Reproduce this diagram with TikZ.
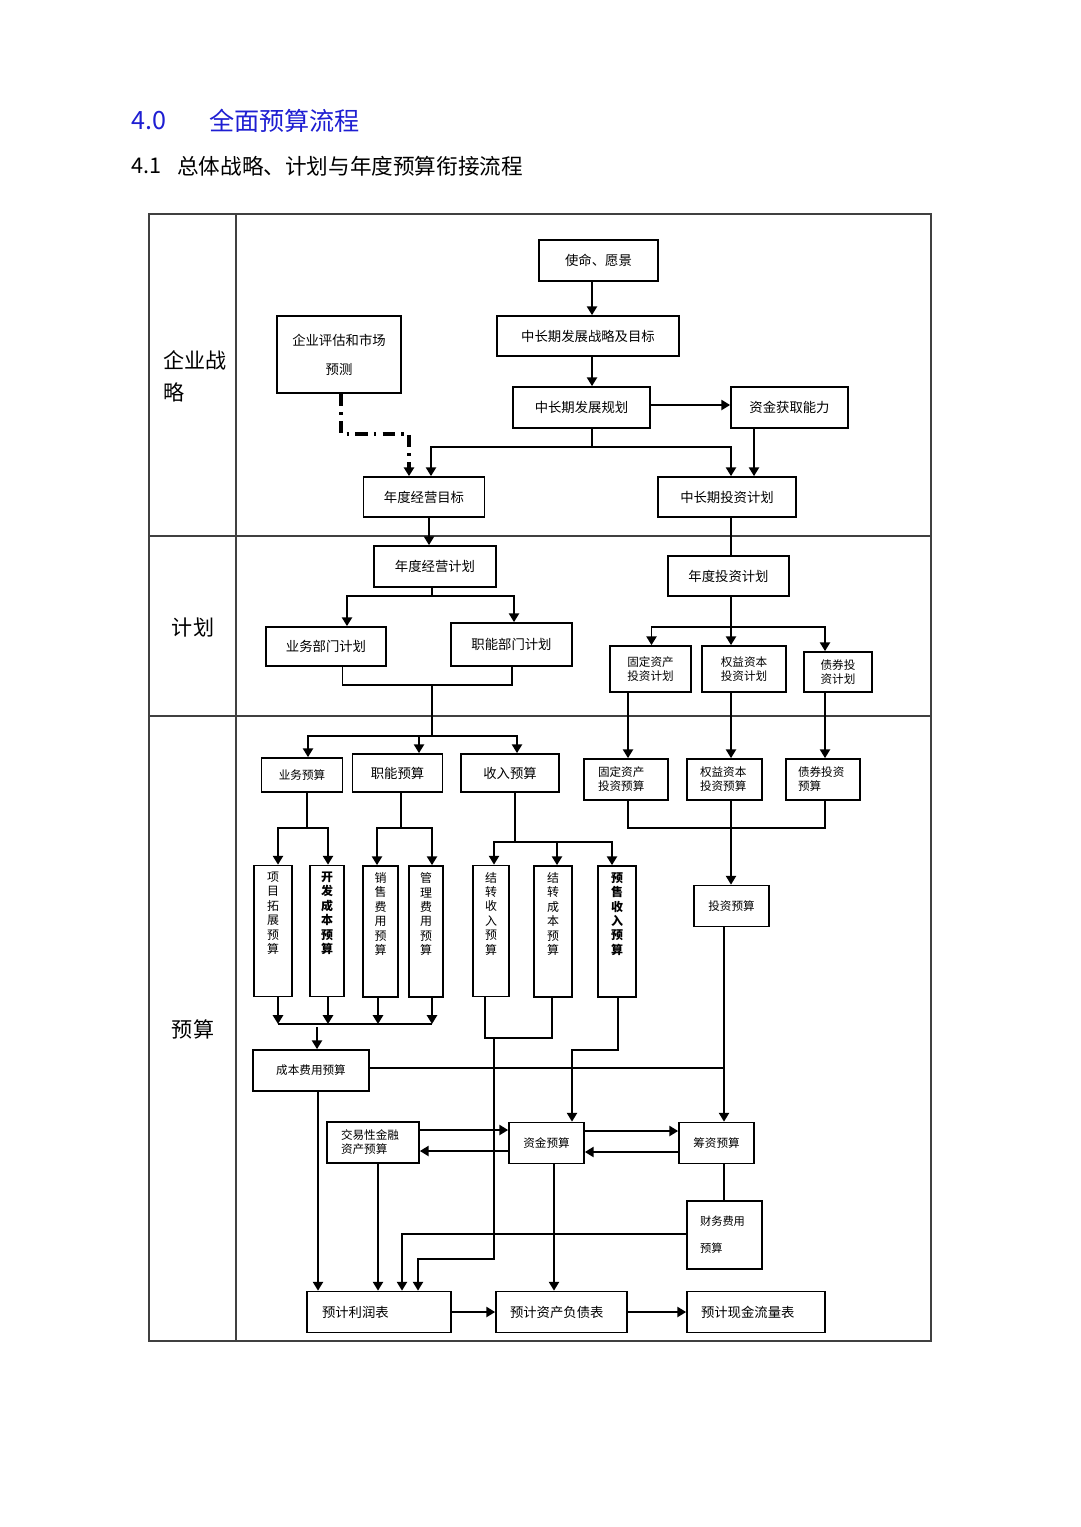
\documentclass[tikz,border=0pt]{standalone}
\usepackage{fontspec}
\setmainfont{Noto Sans CJK SC}
\usetikzlibrary{arrows.meta,positioning}
\definecolor{titleblue}{RGB}{30,30,210}
\begin{document}
\begin{tikzpicture}[x=0.02cm,y=-0.02cm,
    bx/.style={draw,line width=1pt,inner sep=1pt,font=\fontsize{7.6}{9}\selectfont},
    sm/.style={font=\fontsize{6.6}{8}\selectfont},
    wh/.style 2 args={minimum width=#1*0.02cm,minimum height=#2*0.02cm},
    vt/.style={font=\fontsize{6.8}{8.2}\selectfont,align=center,inner sep=0pt},
    ln/.style={line width=1pt},
    arr/.style={line width=1pt,-{Triangle[width=5.8pt,length=5pt]}},
    dd/.style={line width=1.8pt,dash pattern=on 7pt off 3.5pt on 1.5pt off 3.5pt,-{Triangle[width=5.8pt,length=5pt]}},
    lanes/.style={line width=0.7pt,black!75},
    lane/.style={font=\fontsize{12}{18.1}\selectfont}]
\useasboundingbox (0,0) rectangle (1080,1527);
%    titles
    \node[anchor=west,text=titleblue,font=\fontsize{14.3}{16}\selectfont] (t0num) at (125,121) {4.0};
    \node[anchor=west,text=titleblue,font=\fontsize{14.3}{16}\selectfont] (t0)    at (203,121) {全面预算流程};
    \node[anchor=west,font=\fontsize{12.3}{14}\selectfont] (t1num) at (125,166) {4.1};
    \node[anchor=west,font=\fontsize{12.3}{14}\selectfont] (t1)    at (171,166) {总体战略、计划与年度预算衔接流程};

    \draw[lanes] (149,214) rectangle (931,1341);
    \draw[lanes] (236,214) -- (236,1341);
    \draw[lanes] (149,536) -- (931,536);
    \draw[lanes] (149,716) -- (931,716);
    \node[lane,align=left,anchor=west] (lanezl) at (157,376) {企业战\\略};
    \node[lane] (lanejh) at (193,627)  {计划};
    \node[lane] (laneys) at (193,1029) {预算};

%    strategy
    \node[bx,wh={119}{41}] (mission) at (598.5,260.5) {使命、愿景};
    \node[bx,wh={182}{40}] (zcqzl)   at (588,336)     {中长期发展战略及目标};
    \node[bx,wh={124}{77},align=center,font=\fontsize{7.6}{16.4}\selectfont] (qypg) at (339,354.5) {企业评估和市场\\预测};
    \node[bx,wh={137}{41}] (zcqgh)   at (581.5,407.5) {中长期发展规划};
    \node[bx,wh={117}{41}] (zjhq)    at (789.5,407.5) {资金获取能力};
    \node[bx,wh={121}{40}] (ndjymb)  at (424,497)     {年度经营目标};
    \node[bx,wh={138}{40}] (zcqtz)   at (727,497)     {中长期投资计划};

%    plans
    \node[bx,wh={122}{41}] (ndjyjh)  at (435,566.5)   {年度经营计划};
    \node[bx,wh={121}{40}] (ndtzjh)  at (728.5,576)   {年度投资计划};
    \node[bx,wh={120}{39}] (ywbmjh)  at (326,646.5)   {业务部门计划};
    \node[bx,wh={121}{43}] (znbmjh)  at (511.5,644.5) {职能部门计划};
    \node[bx,sm,wh={81}{46},align=center] (gdzcjh) at (650.5,669) {固定资产\\投资计划};
    \node[bx,sm,wh={84}{46},align=center] (qyzbjh) at (744,669)   {权益资本\\投资计划};
    \node[bx,sm,wh={68}{40},align=center] (zqtzjh) at (838,672)   {债券投\\资计划};

%    budgets
    \node[bx,sm,wh={81}{34}] (ywys) at (302,775)   {业务预算};
    \node[bx,wh={90}{38}]    (znys) at (397.5,773) {职能预算};
    \node[bx,wh={98}{38}]    (srys) at (510,773)   {收入预算};
    \node[bx,sm,wh={84}{41},align=left,text width=1.12cm] (gdzcys) at (626,779.5)   {固定资产\\投资预算};
    \node[bx,sm,wh={75}{41},align=left,text width=0.98cm] (qyzbys) at (724.5,779.5) {权益资本\\投资预算};
    \node[bx,sm,wh={74}{41},align=left,text width=1.0cm]  (zqtzys) at (823,779.5)   {债券投资\\预算};

    \node[bx,wh={38}{131}] (xmtz) at (273,931)   {};
    \node[bx,wh={34}{131}] (kfcb) at (327,931)   {};
    \node[bx,wh={35}{131}] (xsfy) at (380.5,931.5) {};
    \node[bx,wh={34}{131}] (glfy) at (426,931.5) {};
    \node[bx,wh={36}{131}] (jzsr) at (491,931)   {};
    \node[bx,wh={38}{131}] (jzcb) at (553,931.5) {};
    \node[bx,wh={38}{131}] (yssr) at (617,931.5) {};
    \node[vt,below=4pt of xmtz.north] (xmtzt) {项\\目\\拓\\展\\预\\算};
    \node[vt,below=4pt of kfcb.north,font=\fontsize{6.8}{8.2}\selectfont\bfseries] (kfcbt) {开\\发\\成\\本\\预\\算};
    \node[vt,below=4pt of xsfy.north] (xsfyt) {销\\售\\费\\用\\预\\算};
    \node[vt,below=4pt of glfy.north] (glfyt) {管\\理\\费\\用\\预\\算};
    \node[vt,below=4pt of jzsr.north] (jzsrt) {结\\转\\收\\入\\预\\算};
    \node[vt,below=4pt of jzcb.north] (jzcbt) {结\\转\\成\\本\\预\\算};
    \node[vt,below=4pt of yssr.north,font=\fontsize{6.8}{8.2}\selectfont\bfseries] (yssrt) {预\\售\\收\\入\\预\\算};
    \node[bx,sm,wh={75}{41}] (tzys) at (731.5,906) {投资预算};

    \node[bx,sm,wh={116}{41}] (cbfy)  at (311,1070.5) {成本费用预算};
    \node[bx,sm,wh={92}{41},align=left,text width=1.28cm] (jyxjr) at (373,1142.5) {交易性金融\\资产预算};
    \node[bx,sm,wh={75}{41}]  (zjys)  at (546.5,1143) {资金预算};
    \node[bx,sm,wh={75}{41}]  (czys)  at (716.5,1143) {筹资预算};
    \node[bx,wh={75}{68},align=left,text width=0.98cm,font=\fontsize{6.4}{15.3}\selectfont] (cwfy) at (724.5,1235) {财务费用\\预算};
    \node[bx,wh={144}{41},align=left,text width=2.28cm] (lrb)  at (379,1312)   {预计利润表};
    \node[bx,wh={131}{41},align=left,text width=2.06cm] (zcfz) at (561.5,1312) {预计资产负债表};
    \node[bx,wh={138}{41},align=left,text width=2.2cm]  (xjll) at (756,1312)   {预计现金流量表};

    \coordinate (j1) at (592,447);
    \coordinate (d1) at (409,434);
    \coordinate (j2) at (432,596);
    \coordinate (j3) at (432,685);
    \coordinate (j4) at (432,736);
    \coordinate (j5) at (731,627);
    \coordinate (j6) at (731,828);
    \coordinate (j7) at (307,828);
    \coordinate (j8) at (401,828);
    \coordinate (j9) at (515,842);
    \coordinate (mg) at (278,1024);
    \coordinate (mg2) at (432,1024);
    \coordinate (m3) at (317,1027);
    \coordinate (j10) at (494,1038);
    \coordinate (j11) at (418,1259);
    \coordinate (j12) at (572,1050);
    \coordinate (j13) at (724,1068);

    \draw[arr] (mission.south -| 592,0) -- (zcqzl.north -| 592,0);
    \draw[arr] (zcqzl.south -| 592,0)   -- (zcqgh.north -| 592,0);
    \draw[arr] (zcqgh.east |- 0,405)    -- (zjhq.west |- 0,405);
    \draw[ln]  (zcqgh.south -| j1) -- (j1);
    \draw[arr] (j1) -| (ndjymb.north -| 431,0);
    \draw[arr] (j1) -| (zcqtz.north -| 731,0);
    \draw[arr] (zjhq.south -| 754,0) -- (zcqtz.north -| 754,0);
    \draw[dd]  (qypg.south -| 341,0) |- (d1) -- (ndjymb.north -| d1);

    \draw[arr] (ndjymb.south -| 429,0) -- (ndjyjh.north -| 429,0);
    \draw[ln]  (zcqtz.south -| 731,0)  -- (ndtzjh.north -| 731,0);
    \draw[ln]  (ndjyjh.south -| j2) -- (j2);
    \draw[arr] (j2) -| (ywbmjh.north -| 347,0);
    \draw[arr] (j2) -| (znbmjh.north -| 514,0);
    \draw[ln]  (ywbmjh.south -| 342.5,0) |- (j3);
    \draw[ln]  (znbmjh.south -| 512,0) |- (j3);
    \draw[ln]  (j3) -- (j4);
    \draw[arr] (j4) -| (ywys.north -| 308,0);
    \draw[arr] (j4) -| (znys.north -| 419,0);
    \draw[arr] (j4) -| (srys.north -| 517,0);

    \draw[ln]  (ndtzjh.south -| j5) -- (j5);
    \draw[arr] (j5) -| (gdzcjh.north -| 651.5,0);
    \draw[arr] (j5) -- (qyzbjh.north -| j5);
    \draw[arr] (j5) -| (zqtzjh.north -| 825,0);
    \draw[arr] (gdzcjh.south -| 628,0) -- (gdzcys.north -| 628,0);
    \draw[arr] (qyzbjh.south -| 731,0) -- (qyzbys.north -| 731,0);
    \draw[arr] (zqtzjh.south -| 825,0) -- (zqtzys.north -| 825,0);
    \draw[ln]  (gdzcys.south -| 628,0) |- (j6);
    \draw[ln]  (zqtzys.south -| 825,0) |- (j6);
    \draw[arr] (qyzbys.south -| j6) -- (tzys.north -| j6);

    \draw[ln]  (ywys.south -| j7) -- (j7);
    \draw[arr] (j7) -| (xmtz.north -| 278,0);
    \draw[arr] (j7) -| (kfcb.north -| 328,0);
    \draw[ln]  (znys.south -| j8) -- (j8);
    \draw[arr] (j8) -| (xsfy.north -| 377,0);
    \draw[arr] (j8) -| (glfy.north -| 432,0);
    \draw[ln]  (srys.south -| j9) -- (j9);
    \draw[arr] (j9) -| (jzsr.north -| 494,0);
    \draw[arr] (j9) -| (jzcb.north -| 557,0);
    \draw[arr] (j9) -| (yssr.north -| 612,0);

    \draw[ln]  (mg) -- (mg2);
    \draw[arr] (xmtz.south -| mg) -- (mg);
    \draw[arr] (kfcb.south -| 328,0) -- (mg -| 328,0);
    \draw[arr] (xsfy.south -| 378,0) -- (mg -| 378,0);
    \draw[arr] (glfy.south -| mg2) -- (mg2);
    \draw[arr] (m3) -- (cbfy.north -| m3);

    \draw[ln]  (jzsr.south -| 485,0) |- (j10) -| (jzcb.south -| 552,0);
    \draw[arr] (j10) |- (j11) -- (lrb.north -| j11);
    \draw[arr] (yssr.south -| 618,0) |- (j12) -- (zjys.north -| j12);
    \draw[ln]  (cbfy.east |- j13) -- (j13);
    \draw[arr] (tzys.south -| j13) -- (czys.north -| j13);

    \draw[arr] (jyxjr.east |- 0,1130) -- (zjys.west |- 0,1130);
    \draw[arr] (zjys.west |- 0,1151)  -- (jyxjr.east |- 0,1151);
    \draw[arr] (zjys.east |- 0,1131)  -- (czys.west |- 0,1131);
    \draw[arr] (czys.west |- 0,1152)  -- (zjys.east |- 0,1152);
    \draw[ln]  (czys.south -| j13) -- (cwfy.north -| j13);
    \draw[arr] (cwfy.west |- 0,1234) -| (lrb.north -| 402,0);
    \draw[arr] (cbfy.south -| 318,0)  -- (lrb.north -| 318,0);
    \draw[arr] (jyxjr.south -| 378,0) -- (lrb.north -| 378,0);
    \draw[arr] (zjys.south -| 554,0)  -- (zcfz.north -| 554,0);
    \draw[arr] (lrb.east)  -- (zcfz.west);
    \draw[arr] (zcfz.east) -- (xjll.west);
\end{tikzpicture}
\end{document}
